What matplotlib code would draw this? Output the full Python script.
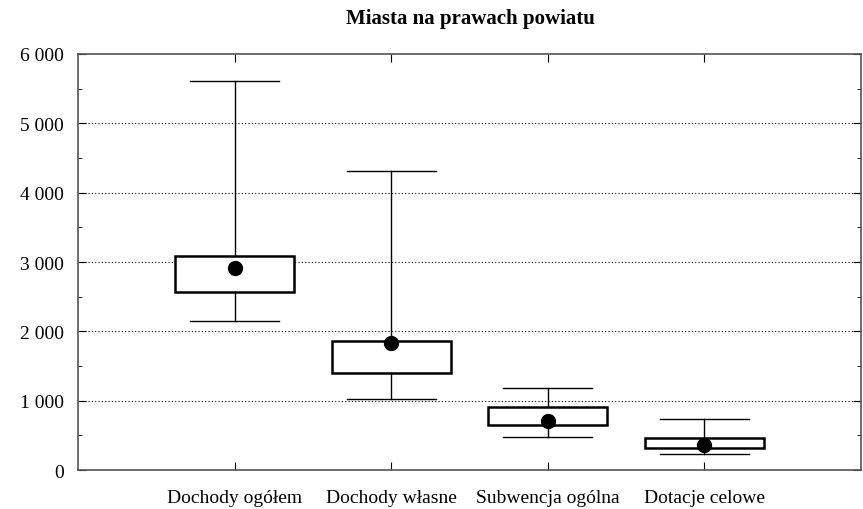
import matplotlib.pyplot as plt
from matplotlib.ticker import MultipleLocator, FuncFormatter

# Data
categories = ["Dochody ogółem", "Dochody własne", "Subwencja ogólna", "Dotacje celowe"]
whisker_low = [2150, 1025, 480, 226]
box_low = [2567, 1399, 649, 317]
box_high = [3087, 1861, 913, 466]
whisker_high = [5610, 4313, 1187, 736]
center = [2914, 1832, 707, 365]

plt.rcParams["font.family"] = ["Liberation Serif", "DejaVu Serif"]

fig = plt.figure(figsize=(8.63, 5.10), dpi=100)
ax = fig.add_axes([78 / 863, 1 - 471 / 510, 783 / 863, 416 / 510])

pos = list(range(1, len(categories) + 1))
stats = []
for i, name in enumerate(categories):
    stats.append({
        "label": name,
        "whislo": whisker_low[i],
        "q1": box_low[i],
        "med": center[i],
        "q3": box_high[i],
        "whishi": whisker_high[i],
        "fliers": [],
    })

ax.bxp(stats, positions=pos, widths=0.76, showcaps=True,
       boxprops=dict(color="black", linewidth=2),
       whiskerprops=dict(color="black", linewidth=1),
       capprops=dict(color="black", linewidth=1),
       medianprops=dict(linewidth=0), capwidths=0.57,
       patch_artist=True, zorder=3)
for p in ax.patches:
    p.set_facecolor("white")
    p.set_edgecolor("black")
    p.set_linewidth(1.8)
ax.plot(pos, center, "o", color="black", markersize=10, zorder=5)

ax.set_xlim(0, 5)
ax.set_ylim(0, 6000)
ax.set_xticks(pos)
ax.set_xticklabels(categories, fontsize=14)
ax.yaxis.set_major_locator(MultipleLocator(1000))
ax.yaxis.set_minor_locator(MultipleLocator(500))
ax.yaxis.set_major_formatter(FuncFormatter(lambda v, _: f"{int(v):,}".replace(",", " ")))
ax.tick_params(axis="y", labelsize=14, pad=10)
ax.tick_params(direction="in", which="both", top=True, right=True, length=6)
ax.tick_params(which="minor", length=3)
ax.tick_params(axis="x", pad=14)

for y in range(1000, 6000, 1000):
    ax.axhline(y, color="black", linestyle=(0, (1, 2)), linewidth=0.8, zorder=1)

for s in ax.spines.values():
    s.set_color("#555555")
    s.set_linewidth(1.2)

fig.text(470 / 863, 1 - 19 / 510, "Miasta na prawach powiatu", ha="center", va="center",
         fontsize=15, fontweight="bold")

fig.savefig("out.png", dpi=100)
